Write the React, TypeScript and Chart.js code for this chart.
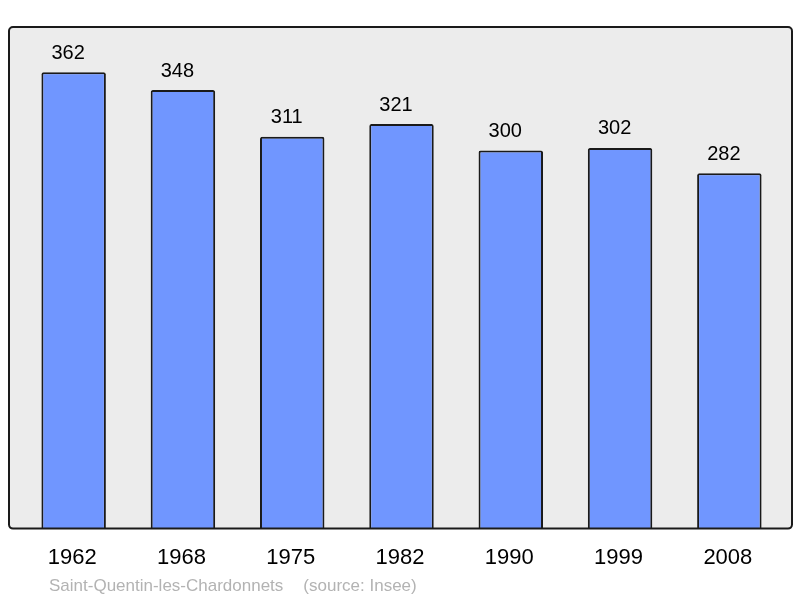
import { useEffect, useRef } from "react";
import { Chart, registerables } from "chart.js";

Chart.register(...registerables);

const years = ["1962", "1968", "1975", "1982", "1990", "1999", "2008"];
const population = [362, 348, 311, 321, 300, 302, 282];
const footerTitle = "Saint-Quentin-les-Chardonnets";
const footerSource = "(source: Insee)";

const FONT = "'Liberation Sans', Arial, sans-serif";

export default function App() {
  const ref = useRef<HTMLCanvasElement>(null);

  useEffect(() => {
    document.body.style.margin = "0";
    const canvas = ref.current;
    if (!canvas) return;

    const framePlugin = {
      id: "frame",
      beforeDatasetsDraw(chart: any) {
        const { ctx, chartArea } = chart;
        ctx.save();
        ctx.beginPath();
        ctx.roundRect(chartArea.left - 10, chartArea.top, chartArea.right - chartArea.left + 18, chartArea.bottom - chartArea.top, 4);
        ctx.fillStyle = "#ececec";
        ctx.fill();
        ctx.restore();
      },
      afterDatasetsDraw(chart: any) {
        const { ctx, chartArea } = chart;
        ctx.save();
        ctx.beginPath();
        ctx.roundRect(chartArea.left - 10, chartArea.top, chartArea.right - chartArea.left + 18, chartArea.bottom - chartArea.top, 4);
        ctx.lineWidth = 2;
        ctx.strokeStyle = "#1a1a1a";
        ctx.stroke();

        // value labels
        const meta = chart.getDatasetMeta(0);
        ctx.fillStyle = "#000";
        ctx.font = `20px ${FONT}`;
        ctx.textAlign = "center";
        ctx.textBaseline = "alphabetic";
        meta.data.forEach((bar: any, i: number) => {
          ctx.fillText(String(chart.data.datasets[0].data[i]), bar.x - 5.5, bar.y - 13.5);
        });

        // footer
        ctx.fillStyle = "#b3b3b3";
        ctx.font = `17px ${FONT}`;
        ctx.textAlign = "left";
        const fx = chartArea.left + 30;
        const fy = chartArea.bottom + 62;
        ctx.fillText(footerTitle, fx, fy);
        const w = ctx.measureText(footerTitle).width;
        ctx.fillText(footerSource, fx + w + 20, fy);
        ctx.restore();
      },
    };

    const chart = new Chart(canvas, {
      type: "bar",
      data: {
        labels: years,
        datasets: [
          {
            data: population,
            backgroundColor: "#7096ff",
            borderColor: "#1a1a1a",
            borderWidth: 2,
            borderRadius: 2,
            borderSkipped: "start",
            barPercentage: 0.59,
            categoryPercentage: 1,
          },
        ],
      },
      options: {
        responsive: false,
        animation: false,
        devicePixelRatio: 1,
        layout: { padding: { left: 19, right: 16, top: 27, bottom: 19 } },
        plugins: {
          legend: { display: false },
          tooltip: { enabled: false },
          title: { display: false },
        },
        scales: {
          y: { display: false, min: 0, max: 398 },
          x: {
            grid: { display: false },
            border: { display: false },
            ticks: {
              padding: 8,
              labelOffset: -1.5,
              color: "#000",
              font: { size: 22, family: FONT },
            },
          },
        },
      },
      plugins: [framePlugin],
    });

    return () => chart.destroy();
  }, []);

  return (
    <div style={{ position: "absolute", left: 0, top: 0, width: 800, height: 598 }}>
      <canvas ref={ref} width={800} height={598} />
    </div>
  );
}
